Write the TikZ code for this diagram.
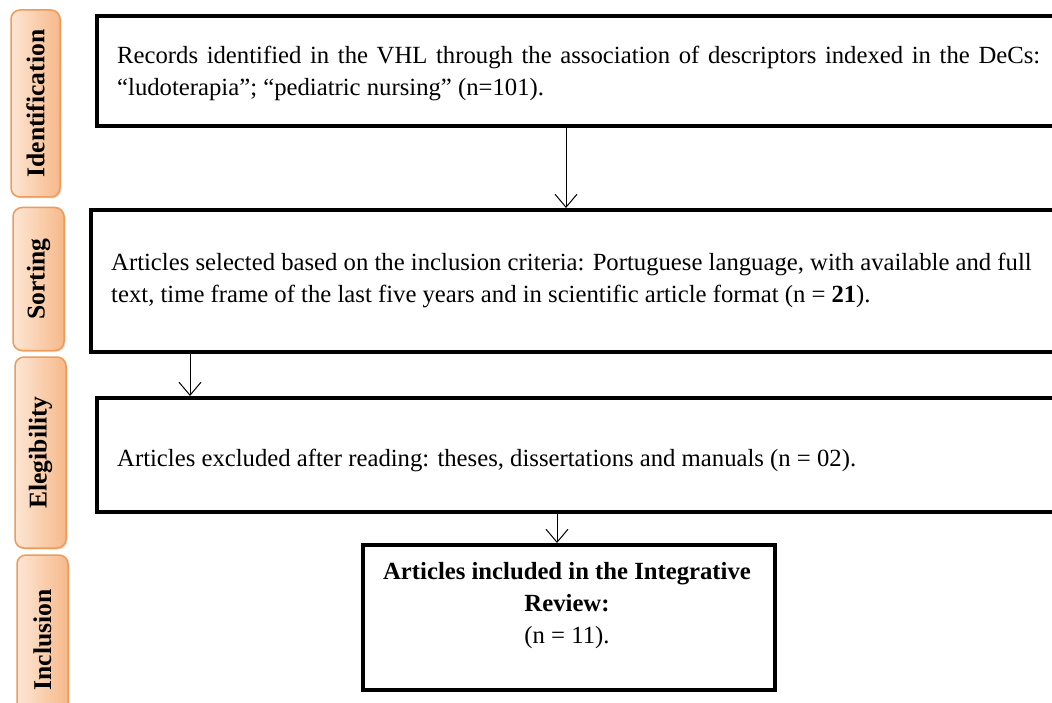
\documentclass[tikz,border=0pt]{standalone}
\usepackage{fontspec}
\setmainfont{Liberation Serif}
\usetikzlibrary{arrows.meta,shadows}
\definecolor{lblfillL}{HTML}{FDE6D4}
\definecolor{lblfillR}{HTML}{F6B98A}
\definecolor{lbldraw}{HTML}{EE9A58}
\tikzset{
  stagebox/.style={draw=black,line width=4pt,fill=white,anchor=north west,inner sep=0pt},
  stagetext/.style={anchor=west,inner sep=0pt,font=\fontsize{24.7}{32}\selectfont,align=left},
  sidelbl/.style={draw=lbldraw,line width=1.5pt,rounded corners=9pt,left color=lblfillL,right color=lblfillR,
     drop shadow={shadow xshift=1.5pt,shadow yshift=-1.5pt,opacity=0.25,fill=black!50}},
  lbltext/.style={rotate=90,font=\fontsize{25.6}{25.6}\selectfont\bfseries,inner sep=0pt},
  arr/.style={line width=1pt,-{Straight Barb[length=13pt,width=22pt,line width=1pt]}}
}
\begin{document}
\begin{tikzpicture}[x=1pt,y=-1pt]
\useasboundingbox (0,0) rectangle (1052,703);
\clip (0,0) rectangle (1052,703);
% side labels
\node[sidelbl,minimum width=49pt,minimum height=187pt] (lid) at (35.5,103.5) {};
\node[lbltext] at (lid.center) {Identification};
\node[sidelbl,minimum width=51pt,minimum height=143pt] (lso) at (38.5,279) {};
\node[lbltext] at (lso.center) {Sorting};
\node[sidelbl,minimum width=51pt,minimum height=191pt] (lel) at (40.5,452.5) {};
\node[lbltext] at (lel.center) {Elegibility};
\node[sidelbl,minimum width=51pt,minimum height=170pt] (lin) at (42.5,640) {};
\node[lbltext] at (lin.center) {Inclusion};
% boxes
\node[stagebox,minimum width=990pt,minimum height=110pt] (b1) at (95,14) {};
\node[stagetext,text width=923pt,align=justify] (t1) at (117,73)
  {Records identified in the VHL through the association of descriptors indexed in the DeCs:\linebreak ``ludoterapia''; ``pediatric nursing'' (n=101).};
\node[stagebox,minimum width=990pt,minimum height=142pt] (b2) at (89,208) {};
\node[stagetext] (t2) at (111,280)
  {Articles selected based on the inclusion criteria: Portuguese language, with available and full\\
   text, time frame of the last five years and in scientific article format (n = \textbf{21}).};
\node[stagebox,minimum width=990pt,minimum height=114pt] (b3) at (95,396) {};
\node[stagetext] (t3) at (117,460)
  {Articles excluded after reading: theses, dissertations and manuals (n = 02).};
\node[stagebox,minimum width=412pt,minimum height=145pt] (b4) at (361,543) {};
\node[anchor=north,inner sep=0pt,align=center,font=\fontsize{24.7}{32}\selectfont] (t4) at (567,562)
  {\textbf{Articles included in the Integrative}\\ \textbf{Review:}\\ (n = 11).};
% connectors
\draw[arr] (b1.south -| 566,0) -- (b2.north -| 566,0);
\draw[arr] (b2.south -| 190,0) -- (b3.north -| 190,0);
\draw[arr] (b3.south -| 557,0) -- (b4.north -| 557,0);
\end{tikzpicture}
\end{document}
